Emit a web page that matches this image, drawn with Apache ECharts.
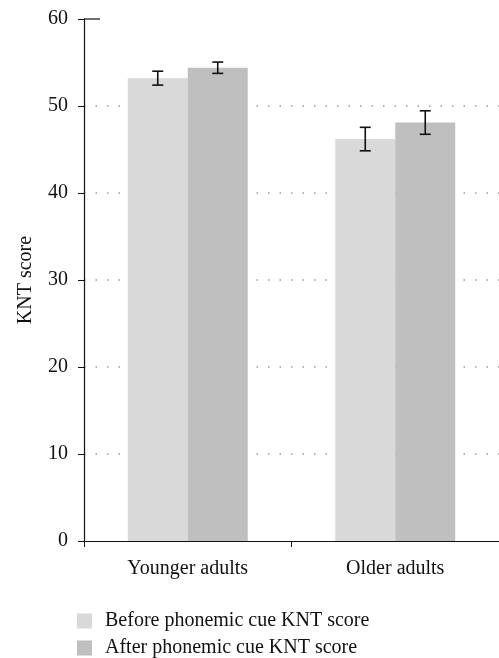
<!DOCTYPE html>
<html>
<head>
<meta charset="utf-8">
<script src="https://cdn.jsdelivr.net/npm/echarts@6/dist/echarts.min.js"></script>
<style>
  html, body { margin: 0; padding: 0; background: #fff; }
  #main { width: 499px; height: 658px; }
</style>
</head>
<body>
<div id="main"></div>
<script>
const categories = ['Younger adults', 'Older adults']
const beforeScores = [53.2, 46.2]
const beforeErrors = [0.8, 1.35]
const afterScores = [54.4, 48.1]
const afterErrors = [0.65, 1.35]
const seriesNames = ['Before phonemic cue KNT score', 'After phonemic cue KNT score']

const chart = echarts.init(document.getElementById('main'))
const font = '"Liberation Serif", "DejaVu Serif", serif'

// error bar drawn on top of each bar; offset = which bar in the pair
const errorSeries = (values, errors, offset) => ({
  type: 'custom',
  z: 10,
  data: values.map((v, i) => [i, v - errors[i], v + errors[i]]),
  renderItem: (params, api) => {
    const lo = api.coord([api.value(0), api.value(1)])
    const hi = api.coord([api.value(0), api.value(2)])
    const x = lo[0] + offset * 30
    const cap = 5.5
    const style = { stroke: '#111', lineWidth: 1.6 }
    return {
      type: 'group',
      children: [
        { type: 'line', shape: { x1: x, y1: lo[1], x2: x, y2: hi[1] }, style },
        { type: 'line', shape: { x1: x - cap, y1: lo[1], x2: x + cap, y2: lo[1] }, style },
        { type: 'line', shape: { x1: x - cap, y1: hi[1], x2: x + cap, y2: hi[1] }, style },
      ],
    }
  },
})

// one legend block per row, stacked
const legendRow = (name, top) => ({
  left: 77,
  top,
  padding: 0,
  itemWidth: 15,
  itemHeight: 15,
  icon: 'rect',
  textStyle: { fontFamily: font, fontSize: 20, color: '#111', padding: [0, 0, 0, 8] },
  data: [name],
})

const option = {
  animation: false,
  textStyle: { fontFamily: font },
  grid: { left: 84, right: 0, top: 19, bottom: 117 },
  legend: [legendRow(seriesNames[0], 611), legendRow(seriesNames[1], 638)],
  xAxis: {
    type: 'category',
    data: categories,
    axisLine: { lineStyle: { color: '#111', width: 1.2 } },
    axisTick: { show: true, length: 6, lineStyle: { color: '#111' } },
    axisLabel: { fontFamily: font, fontSize: 20, color: '#111', margin: 18 },
  },
  yAxis: {
    type: 'value',
    min: 0,
    max: 60,
    interval: 10,
    name: 'KNT score',
    nameLocation: 'middle',
    nameGap: 48,
    nameTextStyle: { fontFamily: font, fontSize: 20, color: '#111' },
    axisLine: { show: true, lineStyle: { color: '#111', width: 1.2 } },
    axisTick: { show: true, length: 6, lineStyle: { color: '#111' } },
    axisLabel: { fontFamily: font, fontSize: 20, color: '#111', margin: 16 },
    splitLine: {
      show: true,
      showMinLine: false,
      showMaxLine: false,
      lineStyle: { color: '#999', type: [1.5, 10], width: 1.5 },
    },
  },
  series: [
    {
      name: seriesNames[0],
      type: 'bar',
      data: beforeScores,
      barWidth: 60,
      barGap: '0%',
      itemStyle: { color: '#d9d9d9' },
      z: 3,
    },
    {
      name: seriesNames[1],
      type: 'bar',
      data: afterScores,
      barWidth: 60,
      itemStyle: { color: '#bfbfbf' },
      z: 3,
    },
    errorSeries(beforeScores, beforeErrors, -1),
    errorSeries(afterScores, afterErrors, 1),
  ],
  graphic: [
    // short frame stroke at the top of the y axis
    { type: 'line', shape: { x1: 84, y1: 19, x2: 100, y2: 19 }, style: { stroke: '#111', lineWidth: 1.2 } },
  ],
}

chart.setOption(option)
</script>
</body>
</html>
